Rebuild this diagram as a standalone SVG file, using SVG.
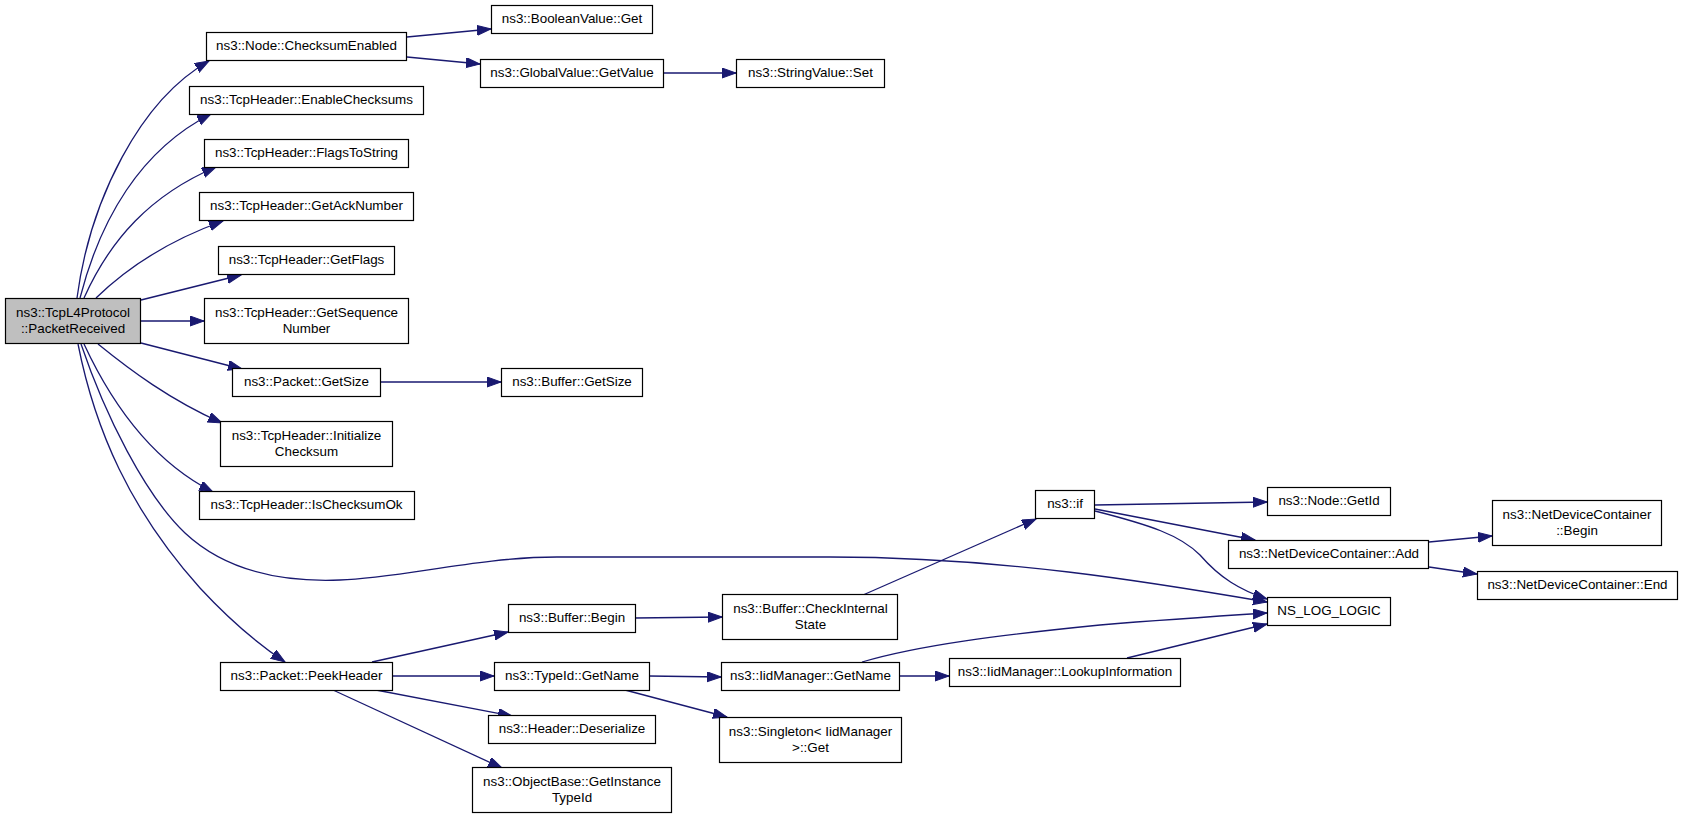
<svg xmlns="http://www.w3.org/2000/svg" width="1683" height="819" viewBox="0 0 1683 819">
<style>
.n rect{fill:#ffffff;stroke:#000000;stroke-width:1.2}
.n.root rect{fill:#bfbfbf}
.n text{font-family:"Liberation Sans",Arial,Helvetica,sans-serif;font-size:13.4px;fill:#000000;text-anchor:middle}
#edges path{fill:none;stroke:#191970;stroke-width:1.3;marker-end:url(#ah)}
</style>
<defs>
<marker id="ah" markerUnits="userSpaceOnUse" markerWidth="15" markerHeight="11" refX="14" refY="5" orient="auto">
<path d="M0,0 L14,5 L0,10 z" fill="#191970" stroke="#191970" stroke-width="1"/>
</marker>
</defs>
<rect x="0" y="0" width="1683" height="819" fill="#ffffff"/>
<g id="edges">
<path d="M77,298 C90,200 140,100 209,61"/>
<path d="M80,298 C100,220 140,150 211,114"/>
<path d="M84,298 C110,240 150,195 216,167"/>
<path d="M96,298 C130,265 170,240 223,221"/>
<path d="M141,300 L241,275"/>
<path d="M141,321 L204,321"/>
<path d="M141,343 L242,369"/>
<path d="M98,344 C130,370 170,400 222,423"/>
<path d="M84,344 C110,400 150,460 213,492"/>
<path d="M81,344 C105,415 145,495 185,533 C230,575 290,582 340,580 C400,578 480,557 557,557 L830,557 C1000,557 1150,582 1267,602"/>
<path d="M78,344 C95,430 130,510 200,588 C225,615 255,642 285,662"/>
<path d="M407,37 L491,29"/>
<path d="M407,57 L480,64"/>
<path d="M663,73 L736,73"/>
<path d="M380,382 L501,382"/>
<path d="M372,662 L508,632"/>
<path d="M393,676 L494,676"/>
<path d="M376,690 L512,716"/>
<path d="M333,690 L502,768"/>
<path d="M635,618 L722,617"/>
<path d="M649,676 L721,677"/>
<path d="M625,690 L727,717"/>
<path d="M863,595 L1036,519"/>
<path d="M1095,505 L1267,502"/>
<path d="M1095,509 L1255,540"/>
<path d="M1095,511 C1150,525 1180,535 1200,555 C1220,578 1240,590 1267,599"/>
<path d="M862,662 C920,645 1000,635 1100,625 C1160,620 1220,616 1267,613"/>
<path d="M900,676 L949,676"/>
<path d="M1127,658 L1267,624"/>
<path d="M1429,542 L1492,536"/>
<path d="M1429,567 L1477,574"/>
</g>
<g id="n0" class="n root"><rect x="5.5" y="298.5" width="135" height="45"/><text x="73" y="316.5">ns3::TcpL4Protocol</text><text x="73" y="333">::PacketReceived</text></g>
<g id="n1" class="n"><rect x="206.5" y="32.5" width="200" height="28"/><text x="306.5" y="50">ns3::Node::ChecksumEnabled</text></g>
<g id="n2" class="n"><rect x="189.5" y="86.5" width="234" height="28"/><text x="306.5" y="104">ns3::TcpHeader::EnableChecksums</text></g>
<g id="n3" class="n"><rect x="204.5" y="139.5" width="204" height="28"/><text x="306.5" y="157">ns3::TcpHeader::FlagsToString</text></g>
<g id="n4" class="n"><rect x="199.5" y="192.5" width="214" height="28"/><text x="306.5" y="210">ns3::TcpHeader::GetAckNumber</text></g>
<g id="n5" class="n"><rect x="218.5" y="246.5" width="176" height="28"/><text x="306.5" y="264">ns3::TcpHeader::GetFlags</text></g>
<g id="n6" class="n"><rect x="204.5" y="298.5" width="204" height="45"/><text x="306.5" y="316.5">ns3::TcpHeader::GetSequence</text><text x="306.5" y="333">Number</text></g>
<g id="n7" class="n"><rect x="232.5" y="368.5" width="148" height="28"/><text x="306.5" y="386">ns3::Packet::GetSize</text></g>
<g id="n8" class="n"><rect x="220.5" y="421.5" width="172" height="45"/><text x="306.5" y="439.5">ns3::TcpHeader::Initialize</text><text x="306.5" y="456">Checksum</text></g>
<g id="n9" class="n"><rect x="199.5" y="491.5" width="215" height="28"/><text x="306.5" y="509">ns3::TcpHeader::IsChecksumOk</text></g>
<g id="n10" class="n"><rect x="220.5" y="662.5" width="172" height="28"/><text x="306.5" y="680">ns3::Packet::PeekHeader</text></g>
<g id="n11" class="n"><rect x="491.5" y="5.5" width="161" height="28"/><text x="572" y="23">ns3::BooleanValue::Get</text></g>
<g id="n12" class="n"><rect x="480.5" y="59.5" width="183" height="28"/><text x="572" y="77">ns3::GlobalValue::GetValue</text></g>
<g id="n13" class="n"><rect x="736.5" y="59.5" width="148" height="28"/><text x="810.5" y="77">ns3::StringValue::Set</text></g>
<g id="n14" class="n"><rect x="501.5" y="368.5" width="141" height="28"/><text x="572" y="386">ns3::Buffer::GetSize</text></g>
<g id="n15" class="n"><rect x="508.5" y="604.5" width="127" height="28"/><text x="572" y="622">ns3::Buffer::Begin</text></g>
<g id="n16" class="n"><rect x="494.5" y="662.5" width="155" height="28"/><text x="572" y="680">ns3::TypeId::GetName</text></g>
<g id="n17" class="n"><rect x="488.5" y="715.5" width="167" height="28"/><text x="572" y="733">ns3::Header::Deserialize</text></g>
<g id="n18" class="n"><rect x="472.5" y="767.5" width="199" height="45"/><text x="572" y="785.5">ns3::ObjectBase::GetInstance</text><text x="572" y="802">TypeId</text></g>
<g id="n19" class="n"><rect x="722.5" y="594.5" width="175" height="45"/><text x="810.5" y="612.5">ns3::Buffer::CheckInternal</text><text x="810.5" y="629">State</text></g>
<g id="n20" class="n"><rect x="721.5" y="662.5" width="178" height="28"/><text x="810.5" y="680">ns3::IidManager::GetName</text></g>
<g id="n21" class="n"><rect x="719.5" y="717.5" width="182" height="45"/><text x="810.5" y="735.5">ns3::Singleton&lt; IidManager</text><text x="810.5" y="752">&gt;::Get</text></g>
<g id="n22" class="n"><rect x="1035.5" y="490.5" width="59" height="28"/><text x="1065" y="508">ns3::if</text></g>
<g id="n23" class="n"><rect x="949.5" y="658.5" width="231" height="28"/><text x="1065" y="676">ns3::IidManager::LookupInformation</text></g>
<g id="n24" class="n"><rect x="1267.5" y="487.5" width="123" height="28"/><text x="1329" y="505">ns3::Node::GetId</text></g>
<g id="n25" class="n"><rect x="1228.5" y="540.5" width="200" height="28"/><text x="1329" y="558">ns3::NetDeviceContainer::Add</text></g>
<g id="n26" class="n"><rect x="1267.5" y="597.5" width="123" height="28"/><text x="1329" y="615">NS_LOG_LOGIC</text></g>
<g id="n27" class="n"><rect x="1492.5" y="500.5" width="169" height="45"/><text x="1577" y="518.5">ns3::NetDeviceContainer</text><text x="1577" y="535">::Begin</text></g>
<g id="n28" class="n"><rect x="1477.5" y="571.5" width="200" height="28"/><text x="1577.5" y="589">ns3::NetDeviceContainer::End</text></g>
</svg>
